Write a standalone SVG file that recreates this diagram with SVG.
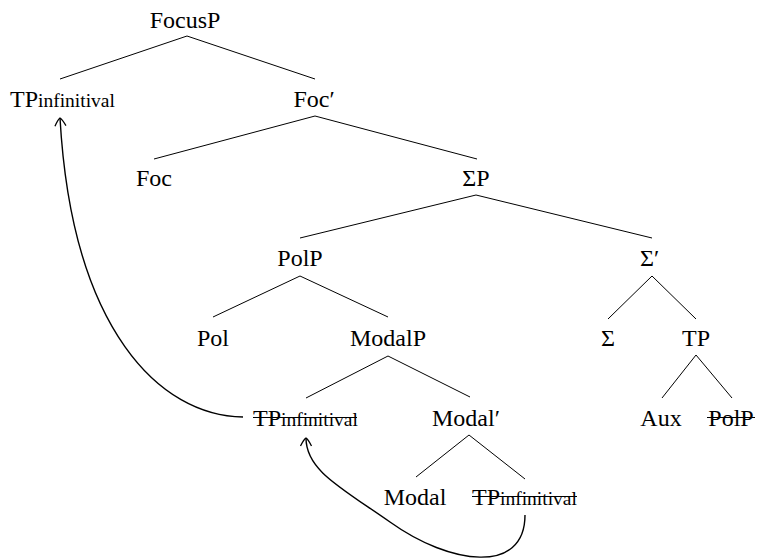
<svg xmlns="http://www.w3.org/2000/svg" width="758" height="559" viewBox="0 0 758 559">
<style>
text{font-family:"Liberation Serif","DejaVu Serif",serif;font-size:24px;fill:#000}
.c{text-anchor:middle}
.sub{font-size:19.5px}
.edge line{stroke:#000;stroke-width:1}
.strike{stroke:#000;stroke-width:1.2}
.mv{fill:none;stroke:#000;stroke-width:1.4}
</style>
<defs>
<marker id="ah" markerUnits="userSpaceOnUse" markerWidth="20" markerHeight="20" viewBox="-10 -10 20 20" refX="0" refY="0" orient="auto">
<path d="M-8,-5.5 C-4,-3.5 -1,-1.5 0,0 C-1,1.5 -4,3.5 -8,5.5" fill="none" stroke="#000" stroke-width="1.3"/>
</marker>
</defs>
<rect width="758" height="559" fill="#fff"/>
<g id="edges" class="edge">
<line x1="187" y1="36" x2="60" y2="79"/>
<line x1="187" y1="36" x2="315" y2="79"/>
<line x1="315" y1="116" x2="154" y2="159"/>
<line x1="315" y1="116" x2="477" y2="159"/>
<line x1="476" y1="195" x2="300" y2="238"/>
<line x1="476" y1="195" x2="652" y2="238"/>
<line x1="300" y1="276" x2="213" y2="317"/>
<line x1="300" y1="276" x2="388" y2="317"/>
<line x1="652" y1="276" x2="608" y2="319"/>
<line x1="652" y1="276" x2="696" y2="319"/>
<line x1="388" y1="356" x2="306" y2="398"/>
<line x1="388" y1="356" x2="470" y2="397"/>
<line x1="696" y1="355" x2="662" y2="398"/>
<line x1="696" y1="355" x2="732" y2="398"/>
<line x1="469" y1="435" x2="416" y2="477"/>
<line x1="469" y1="435" x2="525" y2="479"/>
</g>
<g id="movements">
<path class="mv" d="M243,417 C160,416 72,330 60,118" marker-end="url(#ah)"/>
<path class="mv" d="M525,515 C525,575 450,565 390,522 C340,487 306,470 306,438" marker-end="url(#ah)"/>
</g>
<g id="n-FocusP"><text class="c" x="185" y="28">FocusP</text></g>
<g id="n-TPinf-top"><text x="10" y="107">TP<tspan class="sub">infinitival</tspan></text></g>
<g id="n-FocBar"><text class="c" x="314" y="107">Foc′</text></g>
<g id="n-Foc"><text class="c" x="154" y="186">Foc</text></g>
<g id="n-SigmaP"><text class="c" x="476" y="186">ΣP</text></g>
<g id="n-PolP"><text class="c" x="300" y="266">PolP</text></g>
<g id="n-SigmaBar"><text x="640" y="266">Σ′</text></g>
<g id="n-Pol"><text class="c" x="213" y="346">Pol</text></g>
<g id="n-ModalP"><text class="c" x="388" y="346">ModalP</text></g>
<g id="n-Sigma"><text class="c" x="608" y="346">Σ</text></g>
<g id="n-TP"><text class="c" x="696" y="346">TP</text></g>
<g id="n-TPinf-mid"><text x="253" y="426">TP<tspan class="sub">infinitival</tspan></text><line class="strike" x1="253" y1="417.5" x2="357" y2="417.5"/></g>
<g id="n-ModalBar"><text x="432" y="426">Modal′</text></g>
<g id="n-Aux"><text class="c" x="661" y="426">Aux</text></g>
<g id="n-PolP-low"><text class="c" x="731" y="426">PolP</text><line class="strike" x1="707" y1="417.5" x2="755" y2="417.5"/></g>
<g id="n-Modal"><text class="c" x="415" y="505">Modal</text></g>
<g id="n-TPinf-low"><text x="472" y="505">TP<tspan class="sub">infinitival</tspan></text><line class="strike" x1="472" y1="496.5" x2="577" y2="496.5"/></g>
</svg>
